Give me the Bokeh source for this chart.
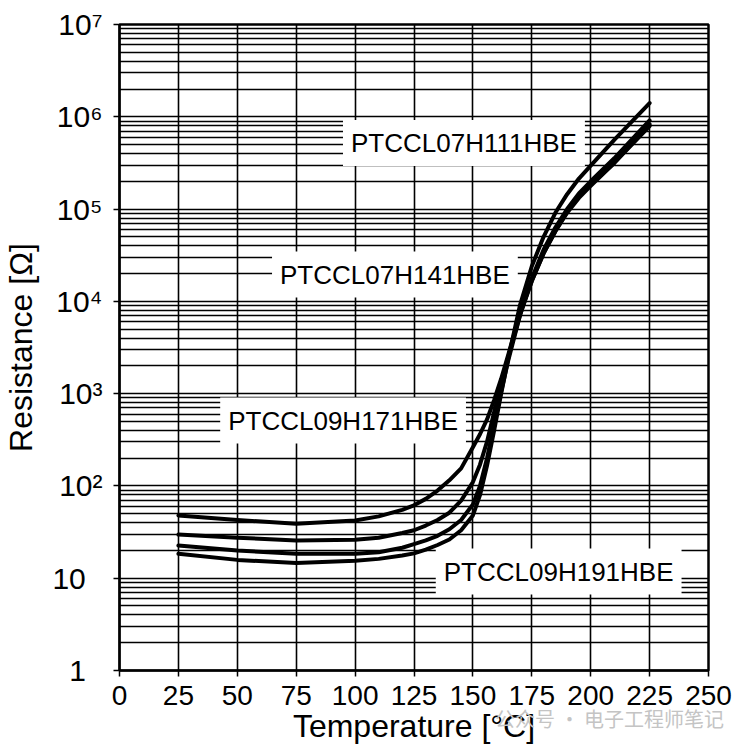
from bokeh.plotting import figure
from bokeh.models import FixedTicker, Label, Range1d, Div
from bokeh.layouts import column
from bokeh.embed import file_html
from bokeh.resources import INLINE

# ---- data ----
temps = [25, 50, 75, 100, 110, 120, 125, 130, 135, 140, 145, 150, 153, 156, 159,
         162, 165, 170, 175, 180, 185, 190, 195, 200, 210, 225]
r_curve1 = [47.9, 42.7, 38.9, 42.2, 46.8, 55, 61.7, 72.4, 89.1, 115, 155, 263,
            363, 525, 851, 1450, 2630, 7410, 16600, 33100, 57500, 93300, 138000,
            186000, 316000, 832000]
r_curve2 = [29.7, 27.5, 25.6, 26.1, 27.5, 30.9, 33.1, 37.2, 42.7, 51.3, 69.2, 110,
            170, 302, 631, 1260, 2510, 7080, 17800, 36300, 63100, 100000, 148000,
            200000, 355000, 912000]
r_curve3 = [22.6, 20, 18.4, 18.4, 19.1, 21.4, 23.4, 25.7, 28.8, 33.9, 42.7, 63.1,
            100, 200, 457, 1050, 2290, 7080, 16600, 33100, 57500, 91200, 132000,
            178000, 316000, 794000]
r_curve4 = [18.4, 15.8, 14.6, 15.5, 16.2, 17.6, 18.6, 20.4, 22.9, 26.3, 33.1, 47.9,
            79.4, 166, 398, 1000, 2400, 9120, 24000, 50100, 91200, 145000, 214000,
            295000, 562000, 1410000]

curve_names = ["PTCCL07H111HBE", "PTCCL07H141HBE", "PTCCL09H171HBE", "PTCCL09H191HBE"]
name_x = [146.2, 116.9, 94.9, 186.4]
name_y = [519000, 19500, 511, 11.8]

x_ticks = [0, 25, 50, 75, 100, 125, 150, 175, 200, 225, 250]
y_ticks = [1, 10, 100, 1000, 10000, 100000, 1000000, 10000000]
y_tick_labels = ["1\u2007", "10\u2007", "10\u00b2", "10\u00b3", "10\u2074",
                 "10\u2075", "10\u2076", "10\u2077"]
y_minor = [m * d for d in [1, 10, 100, 1000, 10000, 100000, 1000000]
           for m in range(2, 10)]

watermark = "\u516c\u4f17\u53f7 \u00b7 \u7535\u5b50\u5de5\u7a0b\u5e08\u7b14\u8bb0"

FONT = "Liberation Sans"

p = figure(width=736, height=752, y_axis_type="log",
           x_range=Range1d(0, 250), y_range=Range1d(1, 1e7),
           output_backend="svg", toolbar_location=None,
           min_border_left=118, min_border_top=24,
           min_border_right=28, min_border_bottom=82)

p.background_fill_color = "white"
p.border_fill_color = "white"
p.outline_line_color = "black"
p.outline_line_width = 2.5

# axes
p.xaxis.ticker = FixedTicker(ticks=x_ticks)
p.yaxis.ticker = FixedTicker(ticks=y_ticks, minor_ticks=y_minor)
p.yaxis.major_label_overrides = {t: lab for t, lab in zip(y_ticks, y_tick_labels)}
for ax in (p.xaxis[0], p.yaxis[0]):
    ax.axis_line_color = "black"
    ax.axis_line_width = 2
    ax.major_tick_line_color = "black"
    ax.major_tick_line_width = 1.5
    ax.major_tick_out = 6
    ax.major_tick_in = 0
    ax.minor_tick_line_color = None
    ax.major_label_text_font = FONT
    ax.major_label_text_color = "black"
    ax.axis_label_text_font = FONT
    ax.axis_label_text_font_size = "32px"
    ax.axis_label_text_font_style = "normal"
    ax.axis_label_text_color = "black"

p.xaxis.major_label_text_font_size = "28px"
p.yaxis.major_label_text_font_size = "30px"
p.xaxis.axis_label = "Temperature [\u00b0C]"
p.yaxis.axis_label = "Resistance [\u03a9]"
p.xaxis.major_label_standoff = 9
p.xaxis.axis_label_standoff = 0
p.yaxis.major_label_standoff = 11
p.yaxis.axis_label_standoff = 10

# grids
p.xgrid.grid_line_color = "black"
p.xgrid.grid_line_width = 1.6
p.ygrid.grid_line_color = "black"
p.ygrid.grid_line_width = 1.6
p.ygrid.minor_grid_line_color = "black"
p.ygrid.minor_grid_line_width = 1.6

# curves
for r in (r_curve1, r_curve2, r_curve3, r_curve4):
    p.line(temps, r, line_color="black", line_width=4, line_join="round", line_cap="round")

# curve name labels with white boxes
for name, lx, ly in zip(curve_names, name_x, name_y):
    p.add_layout(Label(x=lx, y=ly, text=name, text_align="center", text_baseline="middle",
                       text_font=FONT, text_font_size="26px", text_color="black",
                       background_fill_color="white", padding=8))

# faint watermark overlaid at the bottom right
wm = Div(text=watermark, styles={"position": "absolute", "left": "490px", "top": "700px",
                                 "color": "#c4c4c4", "font-family": "Noto Sans CJK SC",
                                 "font-size": "20px", "z-index": "10",
                                 "white-space": "nowrap"})

layout = column(p, wm)
open("out.html", "w").write(file_html(layout, INLINE))
